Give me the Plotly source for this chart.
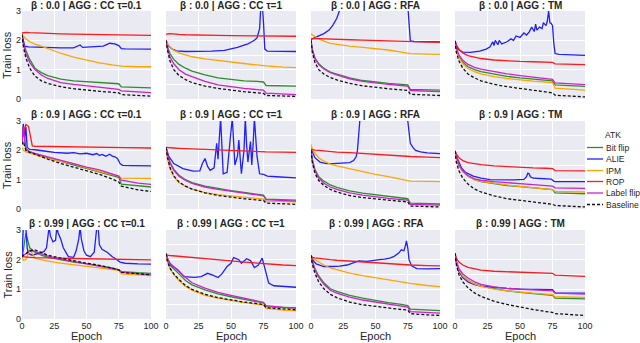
import plotly.graph_objects as go

# ---------------- data ----------------
EPOCHS = [0, 1, 3, 6, 10, 15, 20, 30, 40, 50, 60, 70, 75, 77, 90, 100]
SERIES = ["Bit flip", "ALIE", "IPM", "ROP", "Label flip", "Baseline"]
TITLES = [
    "β : 0.0 | AGG : CC τ=0.1", "β : 0.0 | AGG : CC τ=1", "β : 0.0 | AGG : RFA", "β : 0.0 | AGG : TM",
    "β : 0.9 | AGG : CC τ=0.1", "β : 0.9 | AGG : CC τ=1", "β : 0.9 | AGG : RFA", "β : 0.9 | AGG : TM",
    "β : 0.99 | AGG : CC τ=0.1", "β : 0.99 | AGG : CC τ=1", "β : 0.99 | AGG : RFA", "β : 0.99 | AGG : TM",
]
X_TICKS = [0, 25, 50, 75, 100]
Y_TICKS = [0, 1, 2, 3]

# β 0.0 | CC τ=0.1
p00_bit = [2.2, 1.95, 1.65, 1.35, 1.05, 0.9, 0.8, 0.68, 0.62, 0.59, 0.57, 0.55, 0.52, 0.41, 0.39, 0.38]
p00_alie_x = [0, 1, 2, 5, 10, 20, 30, 40, 43, 45, 47, 55, 60, 63, 66, 68, 72, 75, 77, 80, 100]
p00_alie = [2.2, 1.95, 1.8, 1.78, 1.77, 1.75, 1.74, 1.74, 1.8, 1.84, 1.76, 1.77, 1.78, 1.8, 1.86, 1.9, 1.88, 1.82, 1.72, 1.71, 1.7]
p00_ipm = [2.2, 2.15, 2.05, 1.95, 1.87, 1.8, 1.72, 1.56, 1.43, 1.32, 1.23, 1.16, 1.13, 1.12, 1.1, 1.1]
p00_rop = [2.25, 2.26, 2.27, 2.26, 2.25, 2.24, 2.23, 2.22, 2.21, 2.2, 2.19, 2.19, 2.18, 2.18, 2.17, 2.17]
p00_label = [2.2, 1.9, 1.55, 1.25, 1.0, 0.82, 0.7, 0.56, 0.5, 0.45, 0.41, 0.36, 0.33, 0.28, 0.24, 0.22]
p00_base = [2.2, 1.8, 1.4, 1.05, 0.78, 0.62, 0.53, 0.42, 0.35, 0.3, 0.26, 0.23, 0.21, 0.15, 0.12, 0.1]

# β 0.0 | CC τ=1
p01_bit = [2.0, 1.8, 1.55, 1.35, 1.18, 1.05, 0.95, 0.82, 0.72, 0.66, 0.62, 0.6, 0.58, 0.46, 0.45, 0.44]
p01_alie_x = [0, 2, 5, 8, 15, 25, 35, 45, 50, 55, 60, 63, 66, 68, 70, 72, 73, 74, 75, 76, 78, 85, 100]
p01_alie = [2.0, 1.8, 1.7, 1.64, 1.62, 1.62, 1.63, 1.66, 1.7, 1.76, 1.84, 1.88, 1.95, 2.0, 2.08, 2.4, 3.2, 3.3, 2.6, 1.7, 1.63, 1.62, 1.62]
p01_ipm = [2.0, 1.9, 1.78, 1.66, 1.57, 1.5, 1.44, 1.37, 1.31, 1.26, 1.21, 1.16, 1.15, 1.13, 1.09, 1.07]
p01_rop = [2.2, 2.22, 2.23, 2.21, 2.2, 2.19, 2.19, 2.18, 2.17, 2.16, 2.16, 2.15, 2.15, 2.14, 2.14, 2.14]
p01_label = [2.0, 1.75, 1.45, 1.2, 1.0, 0.85, 0.76, 0.6, 0.48, 0.41, 0.36, 0.32, 0.3, 0.2, 0.17, 0.15]
p01_base = [2.0, 1.7, 1.3, 1.0, 0.8, 0.66, 0.56, 0.44, 0.36, 0.3, 0.25, 0.21, 0.19, 0.12, 0.1, 0.09]

# β 0.0 | RFA
p02_bit = [2.0, 1.7, 1.4, 1.2, 1.05, 0.92, 0.85, 0.72, 0.63, 0.57, 0.53, 0.5, 0.48, 0.33, 0.31, 0.3]
p02_alie_x = [0, 3, 6, 10, 14, 17, 20, 22, 25, 50, 74, 75, 76, 77, 80, 100]
p02_alie = [2.03, 2.08, 2.15, 2.23, 2.35, 2.52, 2.75, 3.0, 3.3, 3.6, 3.5, 3.2, 2.4, 1.98, 1.96, 1.95]
p02_ipm = [2.22, 2.18, 2.13, 2.05, 1.97, 1.9, 1.86, 1.8, 1.76, 1.72, 1.67, 1.6, 1.56, 1.55, 1.53, 1.52]
p02_rop = [2.05, 2.06, 2.06, 2.06, 2.05, 2.04, 2.03, 2.02, 2.01, 2.0, 1.98, 1.97, 1.96, 1.95, 1.94, 1.93]
p02_label = [2.0, 1.68, 1.38, 1.17, 1.02, 0.9, 0.82, 0.69, 0.6, 0.54, 0.5, 0.46, 0.44, 0.29, 0.27, 0.25]
p02_base = [2.0, 1.6, 1.25, 1.0, 0.85, 0.73, 0.65, 0.53, 0.45, 0.39, 0.35, 0.31, 0.29, 0.16, 0.13, 0.12]

# β 0.0 | TM
p03_bit = [1.98, 1.72, 1.45, 1.25, 1.1, 1.0, 0.93, 0.84, 0.77, 0.72, 0.68, 0.64, 0.62, 0.48, 0.45, 0.43]
p03_alie_x = [0, 2, 6, 12, 19, 24, 27, 29, 30, 31, 33, 34, 36, 38, 40, 43, 45, 47, 50, 53, 55, 57, 59, 61, 62, 63,
              65, 67, 68, 70, 71, 72, 73, 74, 75, 76, 77, 80, 90, 100]
p03_alie = [1.98, 1.7, 1.6, 1.59, 1.63, 1.7, 1.78, 1.95, 1.82, 2.0, 1.85, 2.0, 1.88, 1.92, 1.95, 2.05, 2.0, 2.15, 2.1,
            2.25, 2.18, 2.28, 2.45, 2.3, 2.55, 2.35, 2.45, 2.4, 2.6, 2.5, 2.65, 3.0, 2.6, 2.58, 2.5, 1.9, 1.55, 1.52,
            1.5, 1.49]
p03_ipm = [1.98, 1.7, 1.42, 1.2, 1.04, 0.93, 0.86, 0.76, 0.7, 0.65, 0.61, 0.58, 0.56, 0.37, 0.32, 0.3]
p03_rop = [1.98, 1.85, 1.7, 1.57, 1.48, 1.42, 1.38, 1.33, 1.3, 1.28, 1.27, 1.26, 1.25, 1.2, 1.18, 1.17]
p03_label = [1.98, 1.75, 1.5, 1.32, 1.18, 1.08, 1.02, 0.93, 0.86, 0.8, 0.75, 0.7, 0.67, 0.55, 0.51, 0.49]
p03_base = [1.98, 1.6, 1.3, 1.05, 0.85, 0.72, 0.62, 0.5, 0.42, 0.36, 0.3, 0.24, 0.21, 0.13, 0.09, 0.07]

# β 0.9 | CC τ=0.1
p10_bit = [2.3, 2.8, 2.05, 1.95, 1.88, 1.8, 1.74, 1.62, 1.5, 1.38, 1.27, 1.15, 1.08, 0.85, 0.78, 0.75]
p10_alie_x = [0, 1, 2, 3, 4, 6, 10, 15, 20, 25, 30, 35, 40, 45, 50, 55, 58, 60, 62, 65, 68, 70, 72, 74, 76, 78, 85, 100]
p10_alie = [2.3, 2.9, 2.4, 2.8, 2.1, 2.03, 2.02, 2.0, 1.96, 1.93, 1.92, 1.9, 1.92, 1.88, 1.9, 1.85, 1.89, 1.82, 1.86,
            1.8, 1.87, 1.8, 1.78, 1.72, 1.55, 1.49, 1.48, 1.47]
p10_ipm = [2.1, 2.0, 1.95, 1.9, 1.85, 1.78, 1.73, 1.62, 1.55, 1.4, 1.28, 1.18, 1.12, 1.05, 1.04, 1.04]
p10_rop_x = [0, 1, 3, 5, 6, 7, 8, 10, 20, 40, 60, 80, 100]
p10_rop = [2.3, 2.6, 2.88, 2.82, 2.6, 2.3, 2.15, 2.14, 2.13, 2.12, 2.11, 2.09, 2.08]
p10_label = [2.3, 2.8, 2.0, 1.95, 1.9, 1.84, 1.78, 1.67, 1.55, 1.43, 1.33, 1.2, 1.12, 0.98, 0.88, 0.84]
p10_base = [2.2, 2.3, 2.0, 1.93, 1.87, 1.78, 1.7, 1.55, 1.42, 1.3, 1.18, 1.02, 0.92, 0.78, 0.65, 0.6]

# β 0.9 | CC τ=1
p11_bit = [2.1, 1.9, 1.6, 1.35, 1.15, 1.0, 0.9, 0.78, 0.7, 0.63, 0.57, 0.5, 0.47, 0.34, 0.31, 0.3]
p11_alie_x = [0, 2, 6, 13, 21, 26, 28, 30, 32, 34, 37, 39, 40, 41, 42, 44, 47, 49, 51, 53, 55, 56, 58, 60, 61, 62, 63,
              65, 66, 67, 68, 70, 72, 75, 78, 85, 100]
p11_alie = [2.1, 1.8, 1.55, 1.38, 1.29, 1.3, 1.55, 1.72, 1.45, 1.32, 1.4, 2.24, 1.7, 2.5, 3.1, 1.2, 1.25, 2.2, 3.1,
            1.5, 1.8, 2.35, 1.2, 2.0, 3.1, 2.2, 1.6, 2.3, 1.5, 2.2, 3.1, 1.8, 1.2, 1.18, 1.12, 1.1, 1.06]
p11_ipm = [2.1, 1.75, 1.4, 1.1, 0.9, 0.77, 0.68, 0.56, 0.49, 0.44, 0.4, 0.36, 0.34, 0.27, 0.25, 0.24]
p11_rop = [2.1, 2.1, 2.09, 2.08, 2.07, 2.06, 2.05, 2.03, 2.02, 2.0, 1.99, 1.97, 1.96, 1.95, 1.94, 1.93]
p11_label = [2.1, 1.88, 1.58, 1.32, 1.12, 0.97, 0.87, 0.75, 0.67, 0.6, 0.54, 0.48, 0.45, 0.32, 0.29, 0.27]
p11_base = [2.1, 1.78, 1.42, 1.13, 0.92, 0.78, 0.68, 0.55, 0.46, 0.4, 0.35, 0.31, 0.29, 0.2, 0.17, 0.16]

# β 0.9 | RFA
p12_bit = [2.0, 1.7, 1.35, 1.1, 0.95, 0.82, 0.74, 0.62, 0.54, 0.48, 0.43, 0.38, 0.35, 0.2, 0.18, 0.17]
p12_alie_x = [0, 3, 7, 12, 17, 25, 30, 33, 35, 36, 37, 38, 40, 60, 74, 75, 76, 77, 79, 81, 85, 90, 100]
p12_alie = [2.06, 1.75, 1.6, 1.55, 1.55, 1.56, 1.58, 1.65, 1.78, 2.0, 2.4, 3.1, 3.6, 3.6, 3.4, 3.0, 2.5, 2.24, 2.1,
            2.0, 1.95, 1.91, 1.89]
p12_ipm = [2.2, 2.05, 1.9, 1.75, 1.63, 1.53, 1.47, 1.37, 1.28, 1.18, 1.1, 1.02, 0.98, 0.95, 0.94, 0.93]
p12_rop = [2.03, 2.02, 2.01, 2.0, 1.98, 1.96, 1.94, 1.92, 1.89, 1.86, 1.84, 1.81, 1.8, 1.79, 1.77, 1.75]
p12_label = [2.0, 1.65, 1.3, 1.05, 0.88, 0.75, 0.67, 0.55, 0.47, 0.41, 0.36, 0.32, 0.3, 0.16, 0.14, 0.13]
p12_base = [2.0, 1.6, 1.22, 0.97, 0.8, 0.67, 0.58, 0.46, 0.39, 0.34, 0.3, 0.26, 0.24, 0.1, 0.08, 0.07]

# β 0.9 | TM
p13_bit = [1.98, 1.75, 1.48, 1.28, 1.12, 1.0, 0.93, 0.86, 0.8, 0.76, 0.72, 0.68, 0.66, 0.55, 0.53, 0.52]
p13_alie_x = [0, 2, 5, 8, 14, 20, 27, 35, 45, 53, 55, 56, 57, 58, 60, 65, 70, 74, 76, 77, 85, 100]
p13_alie = [1.98, 1.7, 1.4, 1.25, 1.12, 1.05, 1.0, 0.99, 0.99, 1.01, 1.1, 1.22, 1.2, 1.1, 1.05, 1.04, 1.03, 1.02,
            0.95, 0.93, 0.93, 0.93]
p13_ipm = [1.98, 1.75, 1.48, 1.28, 1.12, 1.0, 0.94, 0.87, 0.82, 0.77, 0.73, 0.69, 0.66, 0.6, 0.59, 0.58]
p13_rop = [1.98, 1.88, 1.75, 1.65, 1.58, 1.54, 1.51, 1.47, 1.44, 1.42, 1.4, 1.39, 1.38, 1.31, 1.3, 1.3]
p13_label = [1.98, 1.8, 1.5, 1.3, 1.14, 1.03, 0.98, 0.93, 0.89, 0.86, 0.83, 0.8, 0.78, 0.72, 0.71, 0.7]
p13_base = [1.98, 1.6, 1.3, 1.05, 0.85, 0.68, 0.58, 0.45, 0.35, 0.29, 0.24, 0.19, 0.16, 0.12, 0.09, 0.07]

# β 0.99 | CC τ=0.1
p20_bit = [2.1, 2.3, 2.9, 2.4, 2.25, 2.15, 2.08, 1.99, 1.92, 1.87, 1.8, 1.72, 1.66, 1.6, 1.56, 1.54]
p20_alie_x = [0, 1, 2, 3, 4, 5, 8, 12, 17, 19, 20, 21, 22, 24, 26, 27, 28, 30, 32, 36, 40, 42, 44, 45, 46, 48, 50,
              53, 56, 57, 58, 59, 60, 62, 64, 66, 70, 72, 76, 80, 90, 100]
p20_alie = [2.1, 3.1, 3.1, 3.1, 2.4, 2.2, 2.15, 2.2, 2.27, 2.4, 2.8, 3.1, 2.8, 2.6, 2.65, 3.1, 2.9, 2.7, 2.4, 2.1,
            2.08, 2.3, 2.7, 3.1, 2.7, 2.3, 2.15, 2.1, 2.25, 2.6, 3.1, 3.1, 2.5, 2.35, 2.3, 2.25, 2.1, 2.05, 1.92, 1.88,
            1.86, 1.85]
p20_ipm = [2.1, 1.98, 2.0, 2.35, 2.05, 2.0, 1.95, 1.88, 1.83, 1.78, 1.73, 1.68, 1.64, 1.52, 1.48, 1.46]
p20_rop = [2.1, 2.1, 2.09, 2.08, 2.07, 2.06, 2.06, 2.05, 2.04, 2.03, 2.02, 2.01, 2.0, 2.0, 1.99, 1.99]
p20_label = [2.1, 2.15, 2.2, 2.3, 2.28, 2.2, 2.12, 2.02, 1.94, 1.87, 1.8, 1.72, 1.66, 1.58, 1.52, 1.49]
p20_base = [2.1, 2.15, 2.2, 2.3, 2.33, 2.25, 2.15, 2.05, 1.96, 1.88, 1.81, 1.72, 1.66, 1.57, 1.52, 1.49]

# β 0.99 | CC τ=1
p21_bit = [2.2, 2.0, 1.82, 1.68, 1.52, 1.3, 1.15, 0.98, 0.85, 0.75, 0.66, 0.58, 0.54, 0.42, 0.38, 0.37]
p21_alie_x = [0, 2, 4, 9, 14, 22, 27, 32, 36, 40, 43, 47, 50, 52, 56, 58, 62, 65, 68, 71, 74, 77, 79, 83, 90, 100]
p21_alie = [2.2, 1.95, 1.82, 1.66, 1.43, 1.4, 1.43, 1.54, 1.48, 1.4, 1.52, 1.77, 1.88, 2.07, 2.0, 1.88, 2.03, 1.97,
            1.73, 1.82, 2.05, 1.6, 1.21, 1.12, 1.09, 1.07]
p21_ipm = [2.2, 1.95, 1.7, 1.5, 1.3, 1.1, 0.97, 0.8, 0.7, 0.62, 0.55, 0.5, 0.47, 0.36, 0.3, 0.28]
p21_rop = [2.2, 2.15, 2.14, 2.13, 2.11, 2.09, 2.07, 2.03, 1.99, 1.96, 1.92, 1.88, 1.86, 1.85, 1.82, 1.8]
p21_label = [2.2, 2.05, 1.88, 1.75, 1.6, 1.4, 1.22, 1.04, 0.9, 0.8, 0.7, 0.6, 0.56, 0.45, 0.39, 0.37]
p21_base = [2.2, 1.96, 1.72, 1.52, 1.33, 1.13, 1.0, 0.83, 0.72, 0.64, 0.57, 0.52, 0.49, 0.38, 0.33, 0.31]

# β 0.99 | RFA
p22_bit = [2.15, 1.95, 1.7, 1.45, 1.22, 1.02, 0.93, 0.8, 0.7, 0.62, 0.55, 0.49, 0.45, 0.33, 0.29, 0.28]
p22_alie_x = [0, 2, 4, 10, 17, 22, 28, 33, 37, 43, 48, 53, 57, 61, 64, 66, 68, 70, 72, 73, 74, 75, 76, 78, 82, 90, 100]
p22_alie = [2.15, 1.95, 1.86, 1.77, 1.77, 1.78, 1.82, 1.9, 1.96, 1.94, 1.98, 2.0, 2.02, 2.05, 2.1, 2.17, 2.22, 2.33,
            2.3, 2.44, 2.63, 2.4, 2.0, 1.79, 1.7, 1.69, 1.7]
p22_ipm = [2.15, 2.08, 2.0, 1.92, 1.82, 1.72, 1.66, 1.55, 1.46, 1.39, 1.31, 1.25, 1.22, 1.2, 1.13, 1.09]
p22_rop = [2.12, 2.08, 2.06, 2.04, 2.02, 2.0, 1.98, 1.95, 1.92, 1.89, 1.86, 1.84, 1.83, 1.82, 1.8, 1.79]
p22_label = [2.15, 1.93, 1.66, 1.4, 1.17, 0.97, 0.87, 0.74, 0.64, 0.57, 0.5, 0.44, 0.4, 0.25, 0.21, 0.2]
p22_base = [2.15, 1.85, 1.55, 1.25, 1.02, 0.83, 0.72, 0.57, 0.48, 0.42, 0.37, 0.32, 0.3, 0.18, 0.14, 0.12]

# β 0.99 | TM
p23_bit = [2.22, 1.95, 1.65, 1.45, 1.3, 1.18, 1.11, 1.02, 0.95, 0.9, 0.86, 0.82, 0.8, 0.7, 0.69, 0.68]
p23_alie = [2.22, 1.9, 1.6, 1.4, 1.25, 1.16, 1.11, 1.06, 1.03, 1.01, 1.0, 0.99, 0.99, 0.88, 0.87, 0.87]
p23_ipm = [2.22, 1.93, 1.65, 1.45, 1.3, 1.18, 1.1, 1.01, 0.95, 0.9, 0.87, 0.84, 0.82, 0.75, 0.74, 0.73]
p23_rop = [2.22, 2.05, 1.92, 1.82, 1.74, 1.69, 1.65, 1.61, 1.59, 1.57, 1.56, 1.55, 1.54, 1.48, 1.45, 1.44]
p23_label = [2.22, 1.95, 1.7, 1.52, 1.38, 1.25, 1.17, 1.08, 1.03, 1.0, 0.98, 0.96, 0.95, 0.87, 0.85, 0.84]
p23_base = [2.22, 1.85, 1.5, 1.25, 1.05, 0.88, 0.76, 0.6, 0.49, 0.4, 0.32, 0.25, 0.22, 0.18, 0.14, 0.12]

# ---------------- panel table (built from the arrays above) ----------------
E = EPOCHS
PANELS = [
    [(E, p00_bit), (p00_alie_x, p00_alie), (E, p00_ipm), (E, p00_rop), (E, p00_label), (E, p00_base)],
    [(E, p01_bit), (p01_alie_x, p01_alie), (E, p01_ipm), (E, p01_rop), (E, p01_label), (E, p01_base)],
    [(E, p02_bit), (p02_alie_x, p02_alie), (E, p02_ipm), (E, p02_rop), (E, p02_label), (E, p02_base)],
    [(E, p03_bit), (p03_alie_x, p03_alie), (E, p03_ipm), (E, p03_rop), (E, p03_label), (E, p03_base)],
    [(E, p10_bit), (p10_alie_x, p10_alie), (E, p10_ipm), (p10_rop_x, p10_rop), (E, p10_label), (E, p10_base)],
    [(E, p11_bit), (p11_alie_x, p11_alie), (E, p11_ipm), (E, p11_rop), (E, p11_label), (E, p11_base)],
    [(E, p12_bit), (p12_alie_x, p12_alie), (E, p12_ipm), (E, p12_rop), (E, p12_label), (E, p12_base)],
    [(E, p13_bit), (p13_alie_x, p13_alie), (E, p13_ipm), (E, p13_rop), (E, p13_label), (E, p13_base)],
    [(E, p20_bit), (p20_alie_x, p20_alie), (E, p20_ipm), (E, p20_rop), (E, p20_label), (E, p20_base)],
    [(E, p21_bit), (p21_alie_x, p21_alie), (E, p21_ipm), (E, p21_rop), (E, p21_label), (E, p21_base)],
    [(E, p22_bit), (p22_alie_x, p22_alie), (E, p22_ipm), (E, p22_rop), (E, p22_label), (E, p22_base)],
    [(E, p23_bit), (E, p23_alie), (E, p23_ipm), (E, p23_rop), (E, p23_label), (E, p23_base)],
]

# ---------------- styling ----------------
COLORS = {"Bit flip": "#2a8f2a", "ALIE": "#1f1fff", "IPM": "#ffa500", "ROP": "#ff1a1a",
          "Label flip": "#cc22cc", "Baseline": "#111111"}
DASH = {"Baseline": "3px,2px"}
W, H = 640, 343
COL_PX = [(22, 151), (166, 296), (311, 440), (455, 585)]
ROW_PX = [(11, 99), (121, 209), (230, 319)]
TITLE_Y = [5, 114, 224]
FONT = "Liberation Sans, Arial, sans-serif"
TXT = "#262626"

fig = go.Figure()
layout = dict(width=W, height=H, margin=dict(l=0, r=0, t=0, b=0, autoexpand=False), paper_bgcolor="white",
              plot_bgcolor="#EAEAF2", showlegend=False, template="none",
              font=dict(family=FONT, color=TXT))
annotations = []
shapes = []

for k, panel in enumerate(PANELS):
    r, c = divmod(k, 4)
    ax = "" if k == 0 else str(k + 1)
    x0, x1 = COL_PX[c]
    y0, y1 = ROW_PX[r]
    layout["xaxis" + ax] = dict(domain=[x0 / W, x1 / W], range=[0, 100], anchor="y" + ax, automargin=False,
                                tickvals=X_TICKS, showticklabels=(r == 2), ticks="",
                                showgrid=True, gridcolor="white", gridwidth=1, zeroline=False, showline=False,
                                tickfont=dict(size=9, color=TXT, family=FONT))
    ydict = dict(domain=[1 - y1 / H, 1 - y0 / H], range=[0, 3], anchor="x" + ax, ticks="", automargin=False,
                 showgrid=True, gridcolor="white", gridwidth=1, zeroline=False, showline=False,
                 tickfont=dict(size=9, color=TXT, family=FONT))
    if c == 0:
        ydict.update(tickvals=Y_TICKS, showticklabels=True)
    else:
        ydict.update(tickmode="linear", dtick=0.5, tick0=0, showticklabels=False)
    layout["yaxis" + ax] = ydict

    for name, (xs, ys) in zip(SERIES, panel):
        fig.add_trace(go.Scatter(x=xs, y=ys, mode="lines", name=name, xaxis="x" + ax, yaxis="y" + ax,
                                 line=dict(color=COLORS[name], width=1.3, dash=DASH.get(name, "solid")),
                                 showlegend=False))

    annotations.append(dict(text="<b>" + TITLES[k] + "</b>", x=(x0 + x1) / 2 / W, y=1 - TITLE_Y[r] / H,
                            xref="paper", yref="paper", showarrow=False, xanchor="center", yanchor="middle",
                            font=dict(size=10, color=TXT, family=FONT)))
    if c == 0:
        annotations.append(dict(text="Train loss", x=7 / W, y=1 - (y0 + y1) / 2 / H, xref="paper", yref="paper",
                                showarrow=False, textangle=-90, xanchor="center", yanchor="middle",
                                font=dict(size=11, color=TXT, family=FONT)))
    if r == 2:
        annotations.append(dict(text="Epoch", x=(x0 + x1) / 2 / W, y=1 - 336 / H, xref="paper", yref="paper",
                                showarrow=False, xanchor="center", yanchor="middle",
                                font=dict(size=11, color=TXT, family=FONT)))

# legend drawn manually (matplotlib-like)
annotations.append(dict(text="ATK", x=613 / W, y=1 - 135 / H, xref="paper", yref="paper", showarrow=False,
                        xanchor="center", yanchor="middle", font=dict(size=8.5, color=TXT, family=FONT)))
LEG_Y = [147.5, 159, 170.5, 181.5, 193, 204.5]
for name, ly in zip(SERIES, LEG_Y):
    shapes.append(dict(type="line", xref="paper", yref="paper", x0=587 / W, x1=603 / W, y0=1 - ly / H,
                       y1=1 - ly / H, line=dict(color=COLORS[name], width=1.3, dash=DASH.get(name, "solid"))))
    annotations.append(dict(text=name, x=604 / W, y=1 - ly / H, xref="paper", yref="paper", showarrow=False,
                            xanchor="left", yanchor="middle", font=dict(size=8.5, color=TXT, family=FONT)))

layout["annotations"] = annotations
layout["shapes"] = shapes
fig.update_layout(**layout)
fig.write_html("out.html", config={"displayModeBar": False},
               post_script="document.body.style.margin='0px';document.body.style.overflow='hidden';")
